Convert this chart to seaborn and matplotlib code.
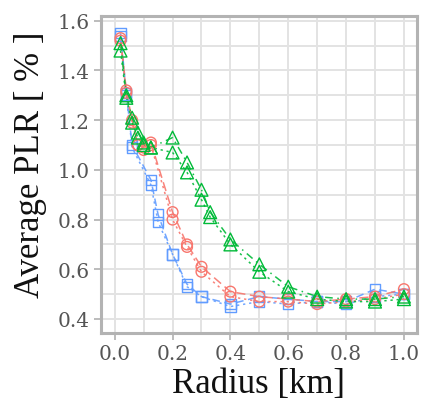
import matplotlib
matplotlib.use("Agg")
import matplotlib.pyplot as plt
import seaborn as sns
import numpy as np
from matplotlib.ticker import MultipleLocator

# ---- data ----
blue_x = [0.02, 0.04, 0.06, 0.125, 0.15, 0.2, 0.25, 0.3, 0.4, 0.5, 0.6, 0.7, 0.8, 0.9, 1.0]
blue_a = [1.55, 1.31, 1.10, 0.96, 0.82, 0.66, 0.54, 0.49, 0.46, 0.49, 0.48, 0.47, 0.47, 0.52, 0.50]
blue_b = [1.54, 1.30, 1.09, 0.94, 0.79, 0.66, 0.53, 0.49, 0.45, 0.47, 0.46, 0.47, 0.46, 0.49, 0.50]

red_x = [0.02, 0.04, 0.06, 0.08, 0.1, 0.125, 0.2, 0.25, 0.3, 0.4, 0.5, 0.6, 0.7, 0.8, 0.9, 1.0]
red_a = [1.53, 1.32, 1.20, 1.10, 1.09, 1.11, 0.83, 0.70, 0.61, 0.51, 0.49, 0.48, 0.47, 0.48, 0.49, 0.52]
red_b = [1.52, 1.31, 1.19, 1.10, 1.08, 1.10, 0.80, 0.69, 0.59, 0.49, 0.47, 0.47, 0.46, 0.47, 0.48, 0.50]

green_x = [0.02, 0.04, 0.06, 0.08, 0.1, 0.125, 0.2, 0.25, 0.3, 0.33, 0.4, 0.5, 0.6, 0.7, 0.8, 0.9, 1.0]
green_a = [1.51, 1.30, 1.21, 1.15, 1.11, 1.09, 1.13, 1.03, 0.92, 0.83, 0.72, 0.62, 0.53, 0.49, 0.48, 0.48, 0.49]
green_b = [1.48, 1.29, 1.19, 1.13, 1.10, 1.09, 1.07, 0.99, 0.88, 0.81, 0.70, 0.59, 0.51, 0.48, 0.47, 0.47, 0.48]

x_ticks = [0.0, 0.2, 0.4, 0.6, 0.8, 1.0]
y_ticks = [0.4, 0.6, 0.8, 1.0, 1.2, 1.4, 1.6]

sns.set_theme(style="white")
plt.rcParams['font.family'] = ['Liberation Serif', 'DejaVu Serif']

fig = plt.figure(figsize=(4.22, 4.10), dpi=100)
ax = fig.add_axes([0.239, 0.185, 0.749, 0.774])

series = [
    (blue_x, blue_a, blue_b, "#619CFF", "s", 55, ((0, (5, 3)), (0, (1.5, 2.5)))),
    (red_x, red_a, red_b, "#F8766D", "o", 60, ((0, (6, 3)), (0, (1.5, 2.5)))),
    (green_x, green_a, green_b, "#00BA38", "^", 85, ((0, (5, 3, 1, 3)), (0, (1.5, 2.5)))),
]

for xs, ya, yb, col, mk, sz, styles in series:
    for ys, ls in zip((ya, yb), styles):
        sns.lineplot(x=xs, y=ys, ax=ax, color=col, linestyle=ls, linewidth=1.1,
                     sort=False, estimator=None, alpha=0.9)
    for ys in (ya, yb):
        sns.scatterplot(x=xs, y=ys, ax=ax, marker=mk, s=sz, facecolors="none",
                        edgecolor=col, linewidth=1.0, zorder=3)

ax.set_xlim(-0.048, 1.045)
ax.set_ylim(0.343, 1.62)
ax.set_xticks(x_ticks)
ax.set_yticks(y_ticks)
ax.set_xticklabels([f"{v:.1f}" for v in x_ticks], family=["DejaVu Serif"])
ax.set_yticklabels([f"{v:.1f}" for v in y_ticks], family=["DejaVu Serif"])
ax.xaxis.set_minor_locator(MultipleLocator(0.1))
ax.yaxis.set_minor_locator(MultipleLocator(0.1))
ax.grid(True, which="both", color="#e3e3e3", linewidth=1.4)
ax.set_axisbelow(True)
ax.tick_params(axis="both", which="major", length=5, width=1.2, color="#b0b0b0",
               labelsize=14.5, labelcolor="#555555", pad=3, bottom=True, left=True)
ax.tick_params(axis="both", which="minor", length=0)
for sp in ax.spines.values():
    sp.set_color("#b3b3b3")
    sp.set_linewidth(2.2)

ax.set_xlabel("Radius [km]", fontsize=25, color="#111111", labelpad=3)
ax.set_ylabel("Average PLR [ % ]", fontsize=25, color="#111111", labelpad=8)
ax.yaxis.label.set_y(0.535)

fig.savefig("out.png", dpi=100)
